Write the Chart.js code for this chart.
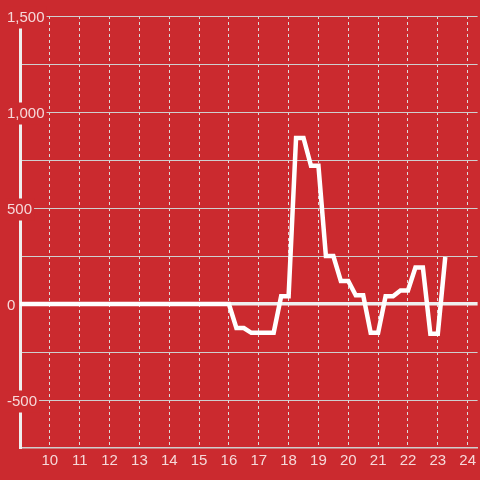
<!DOCTYPE html>
<html lang="en">
<head>
  <meta charset="UTF-8">
  <title>Hourly chart</title>
  <script src="https://cdn.jsdelivr.net/npm/chart.js@4.4.1/dist/chart.umd.min.js"></script>
  <style>
    html, body {
      margin: 0;
      padding: 0;
      background: #cb2a2f;
    }
    .wrap {
      width: 480px;
      height: 480px;
    }
  </style>
</head>
<body>
  <div class="wrap">
    <canvas id="chart" width="480" height="480"></canvas>
  </div>
  <script>
    // hours of the day and the values
    const hours = [9, 16, 16.25, 16.5, 16.75, 17, 17.25, 17.5, 17.75, 18, 18.25, 18.5, 18.75, 19,
      19.25, 19.5, 19.75, 20, 20.25, 20.5, 20.75, 21, 21.25, 21.5, 21.75, 22, 22.25, 22.5, 22.75, 23, 23.25];
    const values = [0, 0, -125, -125, -150, -150, -150, -150, 40, 40, 865, 865, 720, 720,
      250, 250, 120, 120, 45, 45, -150, -150, 40, 40, 70, 70, 190, 190, -155, -155, 245];

    const xTicks = [10, 11, 12, 13, 14, 15, 16, 17, 18, 19, 20, 21, 22, 23, 24];
    const yTicks = [-500, -250, 0, 250, 500, 750, 1000, 1250, 1500];

    const bg = '#cb2a2f';
    const labelColor = 'rgba(255,255,255,0.82)';

    const points = hours.map((h, i) => ({ x: h, y: values[i] }));

    new Chart(document.getElementById('chart'), {
      type: 'line',
      data: {
        datasets: [{
          data: points,
          borderColor: '#ffffff',
          borderWidth: 4.5,
          borderJoinStyle: 'miter',
          tension: 0,
          pointRadius: 0,
          fill: false
        }]
      },
      options: {
        responsive: false,
        animation: false,
        layout: { padding: { left: 7, top: 16, right: 0, bottom: 0 } },
        plugins: {
          legend: { display: false },
          tooltip: { enabled: false }
        },
        scales: {
          x: {
            type: 'linear',
            min: 9,
            max: 24 + 1 / 3,
            afterBuildTicks: s => { s.ticks = xTicks.map(v => ({ value: v })); },
            afterFit: s => { s.height = 32; },
            grid: { color: '#dcdcdc', lineWidth: 1, drawTicks: false },
            border: { color: '#cfcfcf', width: 1.5, dash: [3, 3] },
            ticks: {
              color: labelColor,
              padding: 4,
              font: { family: 'Liberation Sans', size: 15 },
              maxRotation: 0,
              callback: v => String(v)
            }
          },
          y: {
            type: 'linear',
            min: -750,
            max: 1500,
            afterBuildTicks: s => { s.ticks = yTicks.map(v => ({ value: v })); },
            afterFit: s => { s.width = 13; },
            grid: {
              drawTicks: false,
              color: c => (c.tick && c.tick.value === 0) ? '#efefef' : '#cfcfcf',
              lineWidth: c => (c.tick && c.tick.value === 0) ? 3.5 : 1
            },
            border: { color: '#efefef', width: 3 },
            ticks: {
              mirror: true,
              padding: -13,
              labelOffset: 1.5,
              color: labelColor,
              font: { family: 'Liberation Sans', size: 15 },
              showLabelBackdrop: c => c.tick && c.tick.value % 500 === 0 && c.tick.value !== 0,
              backdropColor: bg,
              backdropPadding: 2,
              callback: v => (v % 500 === 0 ? v.toLocaleString('en-US') : '')
            }
          }
        }
      }
    });
  </script>
</body>
</html>
